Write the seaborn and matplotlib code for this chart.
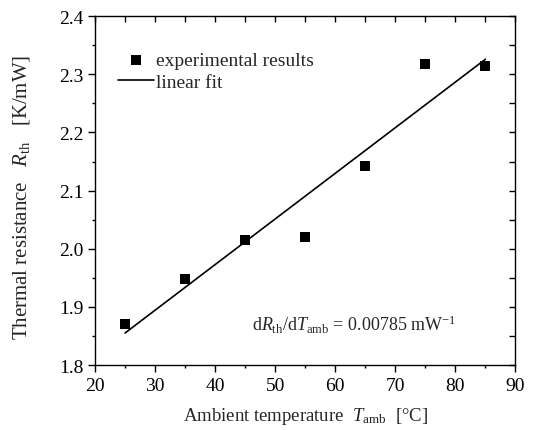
import numpy as np
import pandas as pd
import matplotlib
matplotlib.use("Agg")
import matplotlib.pyplot as plt
import seaborn as sns
from matplotlib.ticker import MultipleLocator

# --- data ---
temp_amb = [25, 35, 45, 55, 65, 75, 85]
r_th = [1.870, 1.948, 2.015, 2.020, 2.142, 2.317, 2.315]
fit_x = [25, 85]
fit_y = [1.855, 2.326]

sns.set_theme(style="ticks")
plt.rcParams['font.family'] = ['Liberation Serif', 'DejaVu Serif']
plt.rcParams['mathtext.fontset'] = 'custom'
plt.rcParams['mathtext.rm'] = 'Liberation Serif'
plt.rcParams['mathtext.it'] = 'Liberation Serif:italic'

df = pd.DataFrame({'T': temp_amb, 'R': r_th})
df_fit = pd.DataFrame({'T': fit_x, 'R': fit_y})

fig = plt.figure(figsize=(5.38, 4.31), dpi=100)
ax = fig.add_axes([0.1766, 0.1508, 0.7814, 0.8092])

sns.scatterplot(data=df, x='T', y='R', ax=ax, marker='s', s=45, color='black',
                edgecolor='black', linewidth=0, label='experimental results', zorder=3)
sns.lineplot(data=df_fit, x='T', y='R', ax=ax, color='black', linewidth=1.2,
             label='linear fit')

ax.set_xlim(20, 90)
ax.set_ylim(1.8, 2.4)
ax.xaxis.set_major_locator(MultipleLocator(10))
ax.xaxis.set_minor_locator(MultipleLocator(5))
ax.yaxis.set_major_locator(MultipleLocator(0.1))
ax.yaxis.set_minor_locator(MultipleLocator(0.05))
ax.yaxis.set_major_formatter(matplotlib.ticker.FormatStrFormatter('%.1f'))

for sp in ax.spines.values():
    sp.set_color('black')
    sp.set_linewidth(1.0)

ax.tick_params(which='major', direction='out', length=5, width=1, colors='black',
               labelsize=14, bottom=True, left=True, top=False, right=False)
ax.tick_params(which='minor', direction='out', length=2.5, width=1, colors='black',
               bottom=True, left=True, top=False, right=False)

# inward ticks on top and right (twin axes share the limits)
axt = ax.twiny()
axt.set_xlim(ax.get_xlim())
axt.xaxis.set_major_locator(MultipleLocator(5))
axt.tick_params(axis='x', direction='in', length=4, width=1, labeltop=False, colors='black')
axr = ax.twinx()
axr.set_ylim(ax.get_ylim())
axr.yaxis.set_major_locator(MultipleLocator(0.05))
axr.tick_params(axis='y', direction='in', length=4, width=1, labelright=False, colors='black')
for a in (axt, axr):
    for sp in a.spines.values():
        sp.set_visible(False)

ax.set_xlabel(r'Ambient temperature  $T_{\mathrm{amb}}$  [°C]', fontsize=13.5, labelpad=8)
ax.set_ylabel(r'Thermal resistance   $R_{\mathrm{th}}$   [K/mW]', fontsize=15)
ax.yaxis.set_label_coords(-0.15, 0.484)

leg = ax.legend(loc='upper left', bbox_to_anchor=(0.012, 0.95), frameon=False,
                fontsize=14, handlelength=1.85, handletextpad=0.15, labelspacing=0.25,
                borderaxespad=0.5)

ax.text(0.617, 0.117, r'd$R_{\mathrm{th}}$/d$T_{\mathrm{amb}}$ = 0.00785 mW$^{\mathrm{-1}}$',
        transform=ax.transAxes, ha='center', va='center', fontsize=13)

fig.savefig('out.png', dpi=100)
